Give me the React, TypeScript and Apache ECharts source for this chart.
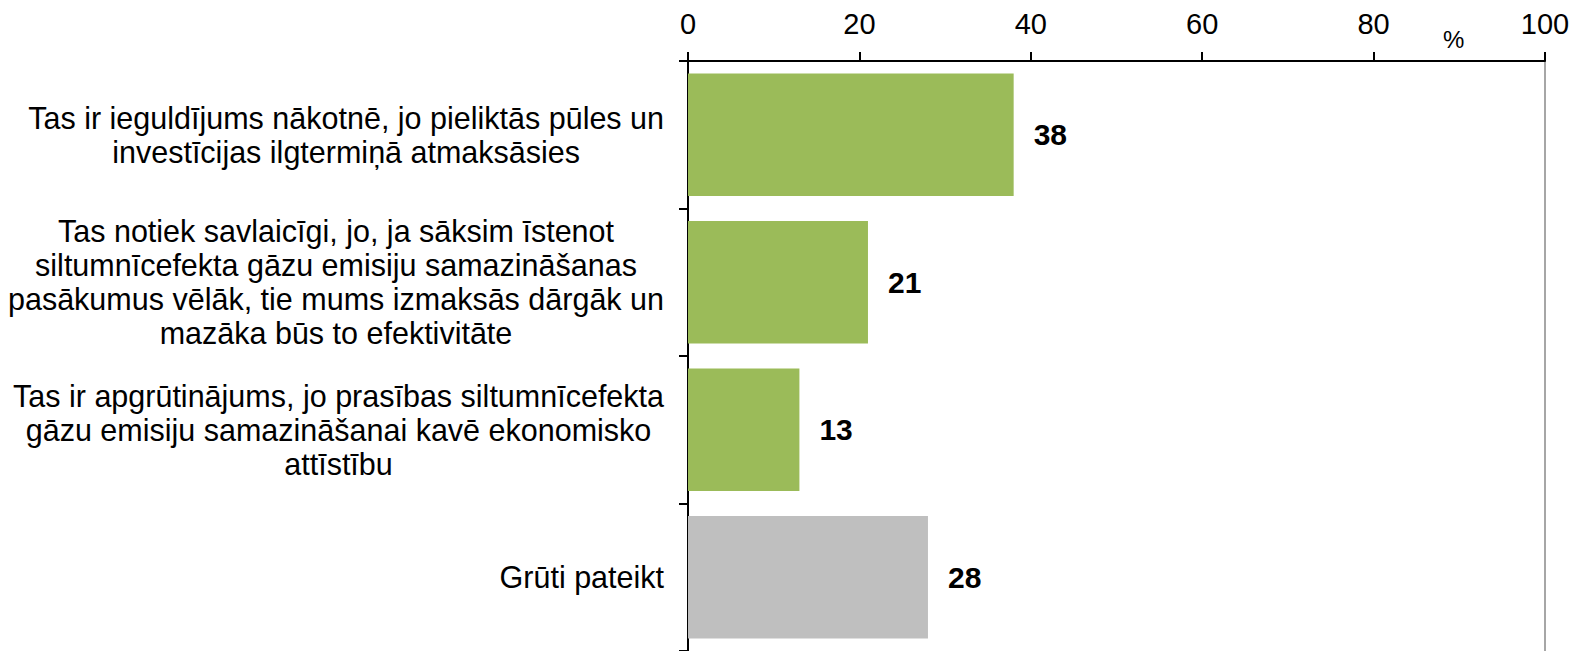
import React, { useEffect, useRef } from "react";
import * as echarts from "echarts";

const categories: string[] = [
  "Tas ir ieguldījums nākotnē, jo pieliktās pūles un\ninvestīcijas ilgtermiņā atmaksāsies",
  "Tas notiek savlaicīgi, jo, ja sāksim īstenot\nsiltumnīcefekta gāzu emisiju samazināšanas\npasākumus vēlāk, tie mums izmaksās dārgāk un\nmazāka būs to efektivitāte",
  "Tas ir apgrūtinājums, jo prasības siltumnīcefekta\ngāzu emisiju samazināšanai kavē ekonomisko\nattīstību",
  "Grūti pateikt",
];
const values: number[] = [38, 21, 13, 28];
const barColors: string[] = ["#9BBB59", "#9BBB59", "#9BBB59", "#BFBFBF"];
const xTicks: number[] = [0, 20, 40, 60, 80, 100];
const unitLabel = "%";

const FONT = "Arial, 'Liberation Sans', Helvetica, sans-serif";

export default function App() {
  const ref = useRef<HTMLDivElement>(null);
  useEffect(() => {
    if (!ref.current) return;
    const chart = echarts.init(ref.current, undefined, { renderer: "svg" });
    chart.setOption({
      animation: false,
      backgroundColor: "#ffffff",
      grid: { left: 688, right: 40, top: 61, bottom: 0, containLabel: false },
      xAxis: {
        type: "value",
        position: "top",
        min: xTicks[0],
        max: xTicks[xTicks.length - 1],
        interval: 20,
        axisLine: { show: true, lineStyle: { color: "#000", width: 2 } },
        axisTick: { show: true, length: 9, lineStyle: { color: "#000", width: 2 } },
        axisLabel: { fontSize: 29, color: "#000", fontFamily: FONT, margin: 23 },
        splitLine: { show: false },
      },
      yAxis: [
        {
          type: "category",
          inverse: true,
          data: categories,
          axisLine: { show: true, lineStyle: { color: "#000", width: 2 } },
          axisTick: { show: true, length: 9, lineStyle: { color: "#000", width: 2 } },
          axisLabel: {
            margin: 24,
            align: "right",
            fontSize: 30.5,
            lineHeight: 34,
            color: "#000",
            fontFamily: FONT,
            formatter: (v: string) =>
              v
                .split("\n")
                .map((l) => `{c|${l}}`)
                .join("\n"),
            rich: {
              c: { align: "center", fontSize: 30.5, lineHeight: 34, color: "#000", fontFamily: FONT },
            },
          },
        },
        {
          type: "category",
          inverse: true,
          position: "right",
          data: categories,
          axisLine: { show: true, lineStyle: { color: "#A6A6A6", width: 2 } },
          axisTick: { show: false },
          axisLabel: { show: false },
        },
      ],
      graphic: [
        {
          type: "text",
          left: 1443,
          top: 27,
          style: { text: unitLabel, fontSize: 24, fill: "#000", fontFamily: FONT },
        },
      ],
      series: [
        {
          type: "bar",
          yAxisIndex: 0,
          barCategoryGap: "17%",
          data: values.map((v, i) => ({ value: v, itemStyle: { color: barColors[i] } })),
          label: {
            show: true,
            position: "right",
            distance: 20,
            fontSize: 30,
            fontWeight: "bold",
            color: "#000",
            fontFamily: FONT,
          },
        },
      ],
    });
    return () => chart.dispose();
  }, []);
  return (
    <div
      ref={ref}
      style={{ position: "absolute", left: 0, top: 0, width: 1585, height: 651 }}
    />
  );
}
